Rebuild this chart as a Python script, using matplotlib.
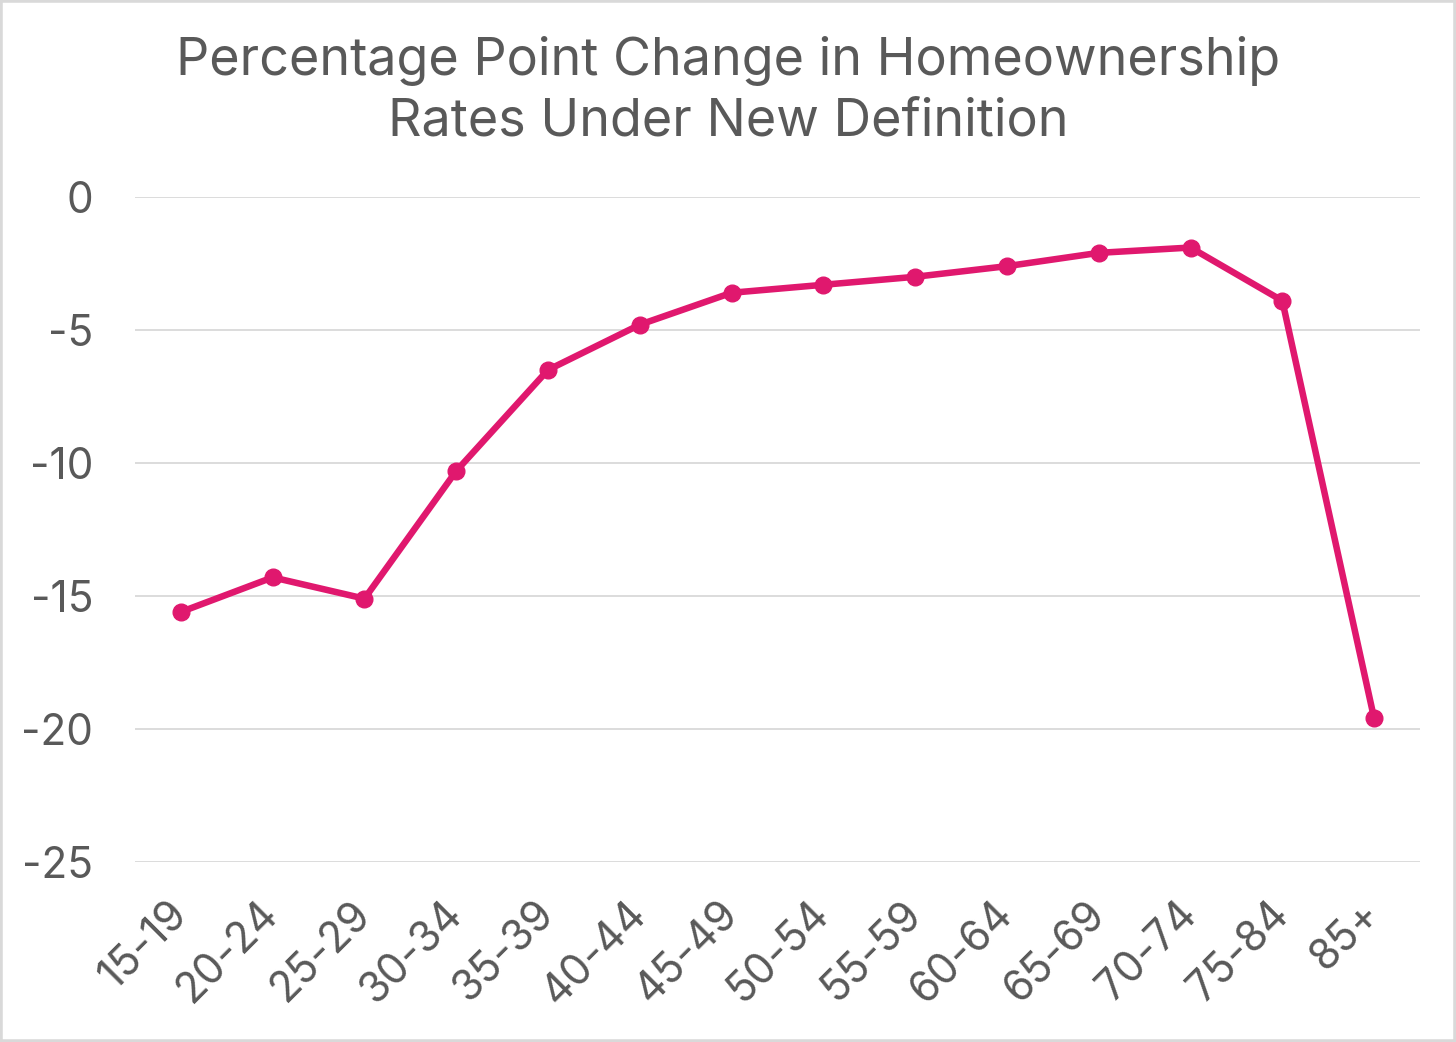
import matplotlib.pyplot as plt
from matplotlib.patches import Rectangle

# Age groups and the percentage point change
age_groups = ["15-19", "20-24", "25-29", "30-34", "35-39", "40-44", "45-49",
              "50-54", "55-59", "60-64", "65-69", "70-74", "75-84", "85+"]
change = [-15.6, -14.3, -15.1, -10.3, -6.5, -4.8, -3.6,
          -3.3, -3.0, -2.6, -2.1, -1.9, -3.9, -19.6]
y_ticks = [0, -5, -10, -15, -20, -25]

plt.rcParams['font.family'] = ['Inter', 'DejaVu Sans']
text_color = '#595959'
line_color = '#E0186E'

fig = plt.figure(figsize=(14.56, 10.42), dpi=100)
ax = fig.add_axes([135 / 1456, 1 - 862 / 1042, (1420 - 135) / 1456, (862 - 197) / 1042])

x = list(range(len(age_groups)))
ax.plot(x, change, color=line_color, linewidth=4.7, marker='o', markersize=12,
        solid_joinstyle='round', zorder=3)

ax.set_xlim(-0.5, len(age_groups) - 0.5)
ax.set_ylim(-25, 0)
ax.set_yticks(y_ticks)
ax.set_yticklabels([str(v) for v in y_ticks])
ax.grid(axis='y', color='#d9d9d9', linewidth=1.3)
ax.set_axisbelow(True)
for s in ax.spines.values():
    s.set_visible(False)

ax.set_xticks(x)
ax.set_xticklabels(age_groups, rotation=45, ha='right', va='center',
                   rotation_mode='anchor')
ax.tick_params(axis='x', length=0, pad=33, labelsize=30.5, labelcolor=text_color)
ax.tick_params(axis='y', length=0, pad=30, labelsize=30.5, labelcolor=text_color)

fig.text(0.5, 1 - 91 / 1042, "Percentage Point Change in Homeownership\nRates Under New Definition",
         ha='center', va='center', fontsize=37.5, color=text_color, linespacing=1.3)

# light frame round the picture
fig.patches.append(Rectangle((0, 0), 1, 1, transform=fig.transFigure, fill=False,
                             edgecolor='#d9d9d9', linewidth=4))

fig.savefig('out.png', dpi=100)
